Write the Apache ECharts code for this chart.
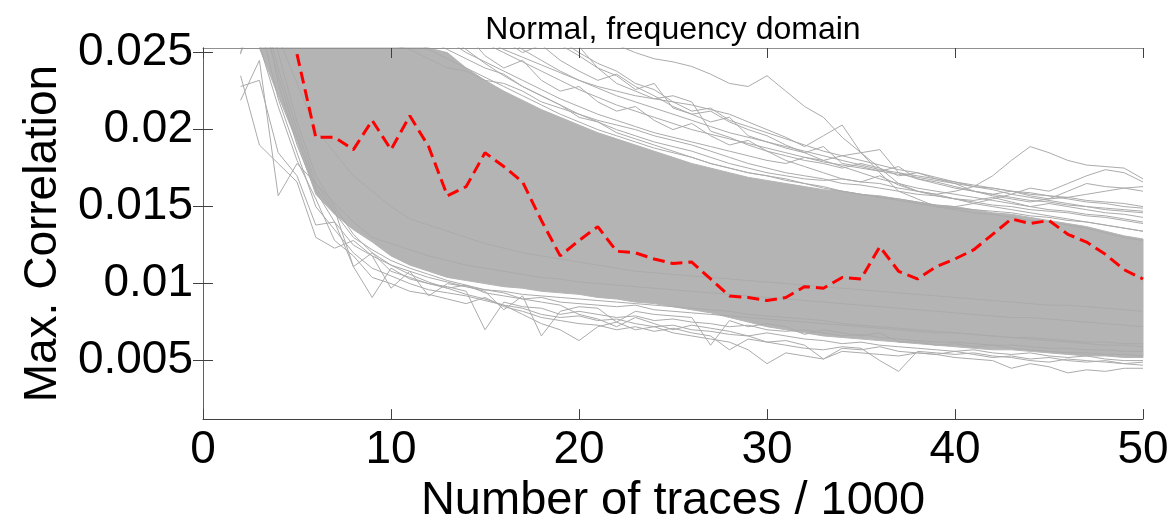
<!DOCTYPE html>
<html>
<head>
<meta charset="utf-8">
<script src="https://cdn.jsdelivr.net/npm/echarts@6/dist/echarts.min.js"></script>
<style>
html, body { margin: 0; padding: 0; background: #fff; }
#chart { width: 1173px; height: 530px; }
</style>
</head>
<body>
<div id="chart"></div>
<script>
// tick labels
const xTicks = [0, 10, 20, 30, 40, 50]
const yTicks = [0.005, 0.01, 0.015, 0.02, 0.025]

// red dashed trace, x = 5..50
const redStart = 5
const redValues = [0.0249, 0.0195, 0.0195, 0.0187, 0.0206, 0.0187, 0.0209, 0.0189, 0.0157, 0.0163,
  0.0185, 0.0176, 0.0166, 0.0141, 0.0118, 0.0128, 0.0137, 0.0121, 0.0120, 0.0116,
  0.0113, 0.0114, 0.0103, 0.0092, 0.0091, 0.0089, 0.0091, 0.0098, 0.0097, 0.0104,
  0.0103, 0.0124, 0.0108, 0.0103, 0.0111, 0.0116, 0.0122, 0.0132, 0.0142, 0.0139,
  0.0141, 0.0132, 0.0127, 0.0119, 0.0109, 0.0103]

// dense grey bundle, lower / upper edge, x = 3..50
const bandStart = 3
const bandLow = [0.0253, 0.0222, 0.0192, 0.0158, 0.0145, 0.0135, 0.0127, 0.0118,
  0.0112, 0.0108, 0.0104, 0.0102, 0.0100, 0.0098, 0.0097, 0.0095, 0.0094, 0.0093,
  0.0091, 0.0090, 0.0088, 0.0087, 0.0085, 0.0083, 0.0081, 0.0078, 0.0075, 0.0072,
  0.0070, 0.0068, 0.0066, 0.0065, 0.0064, 0.0063, 0.0062, 0.0061, 0.0060, 0.0059,
  0.0058, 0.0057, 0.0057, 0.0056, 0.0055, 0.0054, 0.0053, 0.0053, 0.0052, 0.0052]
const bandHigh = [0.0320, 0.0330, 0.0320, 0.0310, 0.0300, 0.0290, 0.0280, 0.0272,
  0.0266, 0.0262, 0.0250, 0.0240, 0.0232, 0.0225, 0.0219, 0.0213, 0.0208, 0.0203,
  0.0198, 0.0194, 0.0190, 0.0186, 0.0182, 0.0178, 0.0175, 0.0172, 0.0169, 0.0167,
  0.0165, 0.0163, 0.0161, 0.0160, 0.0158, 0.0157, 0.0155, 0.0153, 0.0151, 0.0150,
  0.0148, 0.0146, 0.0145, 0.0143, 0.0141, 0.0139, 0.0137, 0.0134, 0.0131, 0.0129]

// single grey traces at the edges of the bundle, x = 2..50
const strayStart = 2
const strayLines = [
  [0.0219, 0.0245, 0.0157, 0.0178, 0.0165, 0.0152, 0.0140, 0.0130, 0.0126,
   0.0122, 0.0118, 0.0115, 0.0112, 0.0110, 0.0108, 0.0106, 0.0104, 0.0103, 0.0101,
   0.0100, 0.0099, 0.0098, 0.0097, 0.0096, 0.0095, 0.0094, 0.0093, 0.0092, 0.0091,
   0.0090, 0.0089, 0.0088, 0.0087, 0.0086, 0.0085, 0.0084, 0.0083, 0.0082, 0.0081,
   0.0080, 0.0079, 0.0078, 0.0078, 0.0077, 0.0076, 0.0075, 0.0074, 0.0073, 0.0072],
  [0.0235, 0.0190, 0.0178, 0.0166, 0.0130, 0.0123, 0.0128, 0.0118, 0.0112,
   0.0108, 0.0104, 0.0101, 0.0098, 0.0096, 0.0095, 0.0093, 0.0092, 0.0091, 0.0090,
   0.0089, 0.0088, 0.0087, 0.0086, 0.0085, 0.0084, 0.0083, 0.0082, 0.0080, 0.0079,
   0.0078, 0.0077, 0.0076, 0.0074, 0.0073, 0.0072, 0.0071, 0.0070, 0.0069, 0.0068,
   0.0067, 0.0066, 0.0065, 0.0064, 0.0063, 0.0062, 0.0061, 0.0060, 0.0060, 0.0059],
  [0.0249, 0.0320, 0.0260, 0.0230, 0.0200, 0.0185, 0.0170, 0.0160, 0.0150,
   0.0142, 0.0138, 0.0134, 0.0130, 0.0126, 0.0123, 0.0120, 0.0118, 0.0116, 0.0114,
   0.0112, 0.0110, 0.0108, 0.0107, 0.0106, 0.0105, 0.0104, 0.0103, 0.0102, 0.0101,
   0.0100, 0.0099, 0.0098, 0.0097, 0.0096, 0.0095, 0.0094, 0.0093, 0.0092, 0.0091,
   0.0090, 0.0089, 0.0088, 0.0087, 0.0086, 0.0086, 0.0085, 0.0084, 0.0083, 0.0082],
  [0.0228, 0.0232, 0.0185, 0.0170, 0.0138, 0.0140, 0.0111, 0.0120, 0.0108,
   0.0104, 0.0100, 0.0097, 0.0099, 0.0094, 0.0092, 0.0090, 0.0091, 0.0088, 0.0087,
   0.0086, 0.0085, 0.0086, 0.0083, 0.0082, 0.0081, 0.0080, 0.0079, 0.0078, 0.0077,
   0.0076, 0.0075, 0.0074, 0.0073, 0.0072, 0.0071, 0.0070, 0.0069, 0.0068, 0.0068,
   0.0067, 0.0066, 0.0065, 0.0065, 0.0064, 0.0063, 0.0062, 0.0062, 0.0061, 0.0061],
  [0.0300, 0.0285, 0.0240, 0.0200, 0.0165, 0.0148, 0.0111, 0.0091, 0.0110,
   0.0103, 0.0100, 0.0098, 0.0095, 0.0070, 0.0088, 0.0085, 0.0084, 0.0080, 0.0082,
   0.0080, 0.0078, 0.0079, 0.0076, 0.0077, 0.0075, 0.0074, 0.0072, 0.0073, 0.0070,
   0.0069, 0.0070, 0.0068, 0.0066, 0.0067, 0.0065, 0.0064, 0.0063, 0.0062, 0.0062,
   0.0061, 0.0060, 0.0060, 0.0059, 0.0058, 0.0058, 0.0057, 0.0057, 0.0056, 0.0056],
  [0.0310, 0.0290, 0.0230, 0.0190, 0.0160, 0.0140, 0.0125, 0.0118, 0.0097,
   0.0108, 0.0092, 0.0100, 0.0098, 0.0095, 0.0083, 0.0092, 0.0066, 0.0082, 0.0085,
   0.0084, 0.0075, 0.0082, 0.0080, 0.0079, 0.0078, 0.0060, 0.0076, 0.0072, 0.0074,
   0.0072, 0.0067, 0.0070, 0.0068, 0.0066, 0.0068, 0.0062, 0.0062, 0.0060, 0.0061,
   0.0059, 0.0060, 0.0058, 0.0057, 0.0056, 0.0055, 0.0055, 0.0054, 0.0054, 0.0053],
  [0.0290, 0.0270, 0.0220, 0.0185, 0.0150, 0.0135, 0.0120, 0.0110, 0.0105,
   0.0100, 0.0096, 0.0094, 0.0092, 0.0089, 0.0086, 0.0084, 0.0080, 0.0078, 0.0079,
   0.0076, 0.0077, 0.0074, 0.0072, 0.0073, 0.0070, 0.0069, 0.0067, 0.0066, 0.0062,
   0.0060, 0.0058, 0.0057, 0.0059, 0.0058, 0.0050, 0.0043, 0.0056, 0.0055, 0.0054,
   0.0055, 0.0053, 0.0052, 0.0050, 0.0049, 0.0051, 0.0050, 0.0049, 0.0048, 0.0047],
  [0.0280, 0.0300, 0.0250, 0.0205, 0.0170, 0.0150, 0.0132, 0.0120, 0.0112,
   0.0106, 0.0101, 0.0097, 0.0093, 0.0090, 0.0086, 0.0080, 0.0074, 0.0070, 0.0063,
   0.0072, 0.0075, 0.0070, 0.0072, 0.0068, 0.0066, 0.0064, 0.0062, 0.0057, 0.0048,
   0.0055, 0.0053, 0.0051, 0.0056, 0.0055, 0.0054, 0.0053, 0.0055, 0.0054, 0.0052,
   0.0051, 0.0050, 0.0045, 0.0048, 0.0046, 0.0042, 0.0044, 0.0043, 0.0045, 0.0045],
  [0.0270, 0.0255, 0.0215, 0.0180, 0.0155, 0.0128, 0.0118, 0.0104, 0.0100,
   0.0095, 0.0093, 0.0090, 0.0087, 0.0091, 0.0085, 0.0082, 0.0078, 0.0076, 0.0074,
   0.0073, 0.0070, 0.0072, 0.0069, 0.0071, 0.0068, 0.0066, 0.0057, 0.0064, 0.0062,
   0.0063, 0.0060, 0.0051, 0.0058, 0.0057, 0.0059, 0.0056, 0.0055, 0.0054, 0.0056,
   0.0054, 0.0052, 0.0053, 0.0051, 0.0052, 0.0050, 0.0049, 0.0050, 0.0048, 0.0049],
  [0.0295, 0.0280, 0.0235, 0.0195, 0.0162, 0.0146, 0.0130, 0.0122, 0.0115,
   0.0110, 0.0106, 0.0102, 0.0099, 0.0096, 0.0094, 0.0090, 0.0088, 0.0086, 0.0080,
   0.0077, 0.0072, 0.0078, 0.0074, 0.0070, 0.0073, 0.0071, 0.0069, 0.0066, 0.0068,
   0.0066, 0.0064, 0.0063, 0.0061, 0.0062, 0.0060, 0.0059, 0.0058, 0.0057, 0.0056,
   0.0057, 0.0055, 0.0054, 0.0055, 0.0053, 0.0052, 0.0053, 0.0051, 0.0050, 0.0050],
  [0.0320, 0.0340, 0.0350, 0.0345, 0.0340, 0.0335, 0.0330, 0.0325, 0.0320,
   0.0315, 0.0310, 0.0305, 0.0300, 0.0295, 0.0290, 0.0285, 0.0278, 0.0272, 0.0265,
   0.0260, 0.0255, 0.0250, 0.0246, 0.0244, 0.0241, 0.0236, 0.0230, 0.0228, 0.0235,
   0.0225, 0.0215, 0.0208, 0.0195, 0.0185, 0.0175, 0.0165, 0.0160, 0.0157, 0.0155,
   0.0152, 0.0150, 0.0148, 0.0146, 0.0144, 0.0142, 0.0140, 0.0138, 0.0136, 0.0134],
  [0.0310, 0.0330, 0.0340, 0.0335, 0.0330, 0.0325, 0.0320, 0.0312, 0.0305,
   0.0298, 0.0290, 0.0283, 0.0275, 0.0268, 0.0260, 0.0252, 0.0245, 0.0238, 0.0232,
   0.0228, 0.0225, 0.0222, 0.0220, 0.0218, 0.0216, 0.0213, 0.0210, 0.0205, 0.0200,
   0.0195, 0.0189, 0.0196, 0.0203, 0.0185, 0.0172, 0.0160, 0.0155, 0.0150, 0.0148,
   0.0146, 0.0145, 0.0143, 0.0141, 0.0140, 0.0138, 0.0136, 0.0133, 0.0130, 0.0128],
  [0.0300, 0.0320, 0.0330, 0.0325, 0.0318, 0.0310, 0.0300, 0.0292, 0.0285,
   0.0276, 0.0268, 0.0260, 0.0252, 0.0243, 0.0235, 0.0228, 0.0222, 0.0216, 0.0210,
   0.0205, 0.0200, 0.0196, 0.0192, 0.0189, 0.0186, 0.0182, 0.0178, 0.0175, 0.0172,
   0.0170, 0.0168, 0.0167, 0.0168, 0.0166, 0.0165, 0.0162, 0.0160, 0.0158, 0.0160,
   0.0163, 0.0170, 0.0180, 0.0189, 0.0185, 0.0180, 0.0177, 0.0176, 0.0175, 0.0168],
  [0.0300, 0.0310, 0.0320, 0.0330, 0.0335, 0.0330, 0.0320, 0.0310, 0.0300,
   0.0292, 0.0285, 0.0280, 0.0275, 0.0270, 0.0266, 0.0262, 0.0258, 0.0256, 0.0254,
   0.0240, 0.0230, 0.0225, 0.0220, 0.0222, 0.0218, 0.0199, 0.0195, 0.0190, 0.0186,
   0.0183, 0.0180, 0.0178, 0.0175, 0.0178, 0.0175, 0.0170, 0.0172, 0.0168, 0.0165,
   0.0160, 0.0158, 0.0160, 0.0157, 0.0155, 0.0156, 0.0158, 0.0160, 0.0162, 0.0160],
  [0.0290, 0.0310, 0.0315, 0.0320, 0.0315, 0.0305, 0.0298, 0.0290, 0.0282,
   0.0274, 0.0265, 0.0258, 0.0250, 0.0244, 0.0238, 0.0232, 0.0226, 0.0220, 0.0215,
   0.0210, 0.0206, 0.0202, 0.0198, 0.0195, 0.0192, 0.0189, 0.0186, 0.0183, 0.0180,
   0.0178, 0.0182, 0.0180, 0.0183, 0.0185, 0.0187, 0.0172, 0.0168, 0.0165, 0.0162,
   0.0160, 0.0157, 0.0155, 0.0153, 0.0155, 0.0160, 0.0165, 0.0163, 0.0162, 0.0163],
  [0.0280, 0.0300, 0.0310, 0.0305, 0.0300, 0.0290, 0.0282, 0.0275, 0.0268,
   0.0260, 0.0252, 0.0246, 0.0240, 0.0234, 0.0228, 0.0222, 0.0216, 0.0210, 0.0205,
   0.0200, 0.0196, 0.0192, 0.0188, 0.0185, 0.0182, 0.0178, 0.0175, 0.0172, 0.0170,
   0.0168, 0.0165, 0.0163, 0.0160, 0.0158, 0.0156, 0.0155, 0.0153, 0.0151, 0.0150,
   0.0152, 0.0155, 0.0158, 0.0162, 0.0160, 0.0165, 0.0170, 0.0174, 0.0172, 0.0166],
  [0.0260, 0.0290, 0.0300, 0.0295, 0.0290, 0.0285, 0.0278, 0.0272, 0.0268,
   0.0262, 0.0258, 0.0252, 0.0246, 0.0240, 0.0236, 0.0228, 0.0222, 0.0216, 0.0208,
   0.0205, 0.0198, 0.0194, 0.0190, 0.0186, 0.0182, 0.0178, 0.0175, 0.0172, 0.0170,
   0.0167, 0.0165, 0.0162, 0.0160, 0.0158, 0.0156, 0.0154, 0.0152, 0.0150, 0.0149,
   0.0148, 0.0147, 0.0146, 0.0144, 0.0143, 0.0141, 0.0140, 0.0138, 0.0136, 0.0134],
  [0.0250, 0.0275, 0.0285, 0.0280, 0.0275, 0.0270, 0.0265, 0.0260, 0.0255,
   0.0252, 0.0246, 0.0240, 0.0238, 0.0232, 0.0230, 0.0225, 0.0218, 0.0214, 0.0210,
   0.0206, 0.0203, 0.0200, 0.0196, 0.0193, 0.0190, 0.0186, 0.0182, 0.0178, 0.0175,
   0.0172, 0.0170, 0.0168, 0.0165, 0.0164, 0.0162, 0.0160, 0.0158, 0.0157, 0.0155,
   0.0154, 0.0156, 0.0153, 0.0150, 0.0152, 0.0150, 0.0148, 0.0146, 0.0145, 0.0143],
  [0.0270, 0.0300, 0.0320, 0.0330, 0.0320, 0.0310, 0.0300, 0.0290, 0.0280,
   0.0272, 0.0262, 0.0255, 0.0262, 0.0248, 0.0240, 0.0245, 0.0232, 0.0225, 0.0228,
   0.0218, 0.0212, 0.0215, 0.0206, 0.0200, 0.0204, 0.0196, 0.0190, 0.0193, 0.0186,
   0.0180, 0.0176, 0.0172, 0.0168, 0.0166, 0.0170, 0.0164, 0.0160, 0.0158, 0.0155,
   0.0153, 0.0151, 0.0150, 0.0148, 0.0147, 0.0146, 0.0144, 0.0143, 0.0141, 0.0139],
  [0.0290, 0.0330, 0.0345, 0.0350, 0.0340, 0.0332, 0.0325, 0.0318, 0.0310,
   0.0300, 0.0290, 0.0280, 0.0272, 0.0265, 0.0258, 0.0250, 0.0255, 0.0245, 0.0238,
   0.0232, 0.0236, 0.0228, 0.0222, 0.0215, 0.0210, 0.0212, 0.0205, 0.0200, 0.0196,
   0.0190, 0.0185, 0.0180, 0.0176, 0.0172, 0.0168, 0.0165, 0.0162, 0.0160, 0.0158,
   0.0156, 0.0154, 0.0152, 0.0150, 0.0148, 0.0147, 0.0145, 0.0144, 0.0142, 0.0140],
  [0.0300, 0.0320, 0.0330, 0.0330, 0.0325, 0.0320, 0.0315, 0.0310, 0.0305,
   0.0300, 0.0295, 0.0290, 0.0285, 0.0280, 0.0275, 0.0270, 0.0262, 0.0255, 0.0248,
   0.0240, 0.0235, 0.0226, 0.0230, 0.0214, 0.0210, 0.0205, 0.0208, 0.0196, 0.0192,
   0.0188, 0.0185, 0.0189, 0.0178, 0.0176, 0.0173, 0.0176, 0.0168, 0.0166, 0.0163,
   0.0160, 0.0158, 0.0156, 0.0154, 0.0153, 0.0151, 0.0150, 0.0148, 0.0147, 0.0146],
  [0.0310, 0.0330, 0.0340, 0.0335, 0.0330, 0.0325, 0.0318, 0.0312, 0.0306,
   0.0300, 0.0292, 0.0286, 0.0280, 0.0272, 0.0268, 0.0261, 0.0266, 0.0258, 0.0250,
   0.0243, 0.0238, 0.0230, 0.0226, 0.0218, 0.0212, 0.0214, 0.0206, 0.0202, 0.0198,
   0.0194, 0.0190, 0.0186, 0.0183, 0.0180, 0.0177, 0.0174, 0.0172, 0.0169, 0.0166,
   0.0163, 0.0161, 0.0158, 0.0156, 0.0154, 0.0152, 0.0150, 0.0149, 0.0148, 0.0147],
  [0.0280, 0.0300, 0.0310, 0.0310, 0.0305, 0.0300, 0.0295, 0.0290, 0.0284,
   0.0278, 0.0272, 0.0266, 0.0262, 0.0256, 0.0250, 0.0244, 0.0238, 0.0232, 0.0226,
   0.0221, 0.0216, 0.0212, 0.0208, 0.0204, 0.0200, 0.0197, 0.0194, 0.0191, 0.0188,
   0.0185, 0.0182, 0.0179, 0.0177, 0.0175, 0.0173, 0.0171, 0.0169, 0.0167, 0.0165,
   0.0163, 0.0162, 0.0160, 0.0159, 0.0157, 0.0156, 0.0154, 0.0153, 0.0152, 0.0150],
  [0.0290, 0.0310, 0.0320, 0.0318, 0.0312, 0.0306, 0.0300, 0.0294, 0.0288,
   0.0282, 0.0276, 0.0270, 0.0264, 0.0258, 0.0252, 0.0247, 0.0242, 0.0237, 0.0232,
   0.0227, 0.0222, 0.0218, 0.0214, 0.0210, 0.0206, 0.0202, 0.0198, 0.0195, 0.0192,
   0.0189, 0.0186, 0.0183, 0.0180, 0.0177, 0.0174, 0.0172, 0.0170, 0.0168, 0.0166,
   0.0164, 0.0162, 0.0160, 0.0158, 0.0157, 0.0155, 0.0153, 0.0152, 0.0150, 0.0149]
]

const FONT = '"Liberation Sans", Arial, Helvetica, sans-serif'
const GREY = '#b4b4b4'
const Y_MIN = 0.0012
const Y_MAX = 0.0253

function pairs (start, values) {
  return values.map((v, i) => [start + i, v])
}

const myChart = echarts.init(document.getElementById('chart'), null, { renderer: 'canvas' })

const axisLineStyle = { lineStyle: { color: '#404040', width: 1 } }
const tickStyle = { color: '#404040', width: 1 }

const series = []
// dense part of the bundle: one polygon, upper edge then lower edge backwards
series.push({
  type: 'custom',
  data: [[bandStart, bandLow[0]]],
  silent: true,
  z: 1,
  renderItem: function (params, api) {
    const clampY = v => Math.min(v, Y_MAX)
    const top = bandHigh.map((v, i) => api.coord([bandStart + i, clampY(v)]))
    const bottom = bandLow.map((v, i) => api.coord([bandStart + i, clampY(v)])).reverse()
    return {
      type: 'polygon',
      shape: { points: top.concat(bottom) },
      style: { fill: GREY, stroke: GREY, lineWidth: 1 }
    }
  }
})
strayLines.forEach(values => {
  series.push({
    type: 'line',
    data: pairs(strayStart, values),
    symbol: 'none',
    lineStyle: { color: '#ababab', width: 1 },
    silent: true,
    z: 2
  })
})
series.push({
  type: 'line',
  data: pairs(redStart, redValues),
  symbol: 'none',
  lineStyle: { color: '#ff0000', width: 3, type: [12, 6] },
  z: 5
})

const option = {
  animation: false,
  title: {
    text: 'Normal, frequency domain',
    left: 668,
    textAlign: 'center',
    top: 9,
    textStyle: { fontFamily: FONT, fontSize: 32, fontWeight: 'normal', color: '#000' }
  },
  grid: { left: 203, right: 30, top: 48, bottom: 101 },
  xAxis: [
    {
      type: 'value',
      min: 0,
      max: 50,
      interval: 10,
      position: 'bottom',
      z: 10,
      name: 'Number of traces / 1000',
      nameLocation: 'middle',
      nameGap: 55,
      nameTextStyle: { fontFamily: FONT, fontSize: 47, color: '#000' },
      axisLine: axisLineStyle,
      axisTick: { inside: true, length: 10, lineStyle: tickStyle },
      axisLabel: {
        margin: 8,
        fontFamily: FONT,
        fontSize: 46,
        color: '#000',
        formatter: v => (xTicks.includes(v) ? String(v) : '')
      },
      splitLine: { show: false }
    },
    {
      type: 'value',
      min: 0,
      max: 50,
      interval: 10,
      position: 'top',
      z: 10,
      axisLine: { lineStyle: { color: '#909090', width: 1 } },
      axisTick: { inside: true, length: 10, lineStyle: tickStyle },
      axisLabel: { show: false },
      splitLine: { show: false }
    }
  ],
  yAxis: [
    {
      type: 'value',
      min: Y_MIN,
      max: Y_MAX,
      position: 'left',
      z: 10,
      name: 'Max. Correlation',
      nameLocation: 'middle',
      nameGap: 137,
      nameTextStyle: { fontFamily: FONT, fontSize: 46, color: '#000' },
      axisLine: { show: true, lineStyle: { color: '#404040', width: 1 } },
      axisTick: { show: true, inside: true, length: 10, customValues: yTicks, lineStyle: tickStyle },
      axisLabel: {
        margin: 10,
        fontFamily: FONT,
        fontSize: 46,
        color: '#000',
        customValues: yTicks,
        formatter: v => String(v)
      },
      splitLine: { show: false }
    },
    {
      type: 'value',
      min: Y_MIN,
      max: Y_MAX,
      position: 'right',
      z: 10,
      axisLine: { show: true, lineStyle: { color: '#606060', width: 1 } },
      axisTick: { show: true, inside: true, length: 10, customValues: yTicks, lineStyle: tickStyle },
      axisLabel: { show: false, customValues: yTicks },
      splitLine: { show: false }
    }
  ],
  series: series
}

myChart.setOption(option)
</script>
</body>
</html>
